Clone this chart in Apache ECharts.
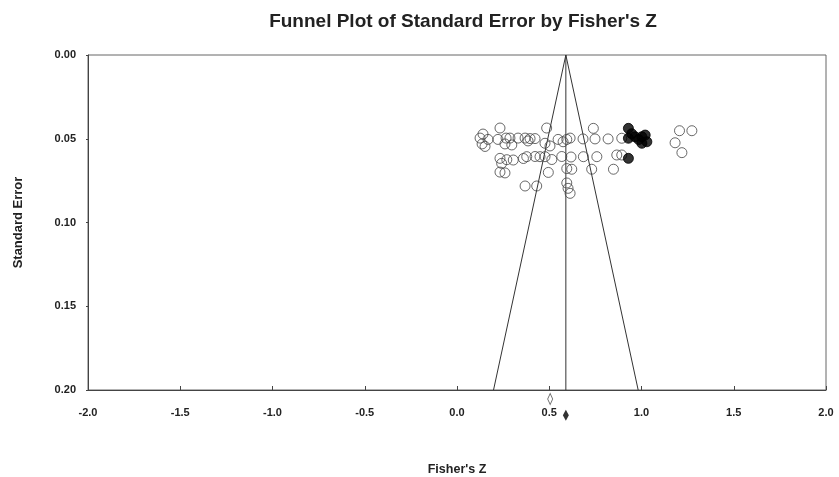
<!DOCTYPE html>
<html>
<head>
<meta charset="utf-8">
<script src="https://cdn.jsdelivr.net/npm/echarts@6/dist/echarts.min.js"></script>
<style>html,body{margin:0;padding:0;background:#fff;}#c{width:839px;height:477px;}</style>
</head>
<body>
<div id="c"></div>
<script>
const xTicks = [-2.0, -1.5, -1.0, -0.5, 0.0, 0.5, 1.0, 1.5, 2.0];
const yTicks = [0.00, 0.05, 0.10, 0.15, 0.20];
const combinedZ = 0.59;
const funnelSE = 0.20;
// observed studies: [Fisher's Z, standard error]
const observed = [
  [0.233,0.0436],[0.141,0.0472],[0.486,0.0436],[0.739,0.0438],[1.206,0.0452],[1.273,0.0452],
  [0.125,0.0496],[0.168,0.0504],[0.222,0.0504],[0.266,0.0496],[0.287,0.0496],[0.331,0.0496],
  [0.369,0.0496],[0.396,0.0499],[0.423,0.0499],[0.548,0.0504],[0.595,0.0504],[0.613,0.0496],
  [0.683,0.0501],[0.748,0.0501],[0.819,0.0501],[0.893,0.0497],[1.182,0.0524],
  [0.136,0.0531],[0.152,0.0546],[0.297,0.0537],[0.385,0.0513],[0.477,0.0527],[0.504,0.0543],
  [0.575,0.0518],[0.260,0.0531],
  [0.233,0.0617],[0.242,0.0647],[0.270,0.0625],[0.305,0.0627],[0.360,0.0618],[0.378,0.0607],
  [0.423,0.0606],[0.450,0.0607],[0.477,0.0607],[0.514,0.0624],[0.568,0.0606],[0.618,0.0609],
  [0.685,0.0607],[0.758,0.0607],[0.866,0.0597],[0.893,0.0597],[1.219,0.0583],
  [0.233,0.0699],[0.260,0.0704],[0.495,0.0701],[0.595,0.0678],[0.622,0.0682],[0.730,0.0682],
  [0.848,0.0682],
  [0.369,0.0782],[0.432,0.0782],[0.595,0.0764],[0.602,0.0796],[0.613,0.0826]
];
// imputed studies
const imputed = [
  [0.929,0.0438],[0.929,0.0497],[0.965,0.0488],[1.002,0.0488],[1.020,0.0478],[1.029,0.0518],
  [1.002,0.0527],[0.929,0.0617],[0.947,0.0470],[0.985,0.0505]
];
const observedCombined = [[0.505, 0.2054]];
const imputedCombined = [[0.59, 0.215]];

const funnel = [
  [combinedZ - 1.96 * funnelSE, funnelSE],
  [combinedZ, 0],
  [combinedZ + 1.96 * funnelSE, funnelSE]
];
const centerLine = [[combinedZ, 0], [combinedZ, funnelSE]];

const chart = echarts.init(document.getElementById('c'));
const font = 'Liberation Sans, Arial, sans-serif';
chart.setOption({
  animation: false,
  backgroundColor: '#fff',
  title: {
    text: "Funnel Plot of Standard Error by Fisher's Z",
    left: 458, top: 7, textAlign: 'center',
    textStyle: {fontFamily: font, fontSize: 19, fontWeight: 'bold', color: '#222'}
  },
  grid: {left: 88, right: 13, top: 55, bottom: 87, show: true, borderColor: '#666', borderWidth: 1,
    containLabel: false, outerBoundsMode: 'none'},
  xAxis: {
    type: 'value', min: -2, max: 2, interval: 0.5,
    name: "Fisher's Z", nameLocation: 'middle', nameGap: 73,
    nameTextStyle: {fontFamily: font, fontSize: 12.5, fontWeight: 'bold', color: '#222'},
    axisLine: {onZero: false, lineStyle: {color: '#444'}},
    axisTick: {inside: true, length: 4, lineStyle: {color: '#444'}},
    splitLine: {show: false},
    axisLabel: {margin: 17, fontFamily: font, fontSize: 11, fontWeight: 'bold', color: '#222',
      formatter: v => v.toFixed(1)}
  },
  yAxis: {
    type: 'value', min: 0, max: 0.2, interval: 0.05, inverse: true,
    name: 'Standard Error', nameLocation: 'middle', nameGap: 63, nameRotate: 90,
    nameTextStyle: {fontFamily: font, fontSize: 13, fontWeight: 'bold', color: '#222'},
    axisLine: {onZero: false, lineStyle: {color: '#444'}},
    axisTick: {length: 2, lineStyle: {color: '#444'}},
    splitLine: {show: false},
    axisLabel: {margin: 12, fontFamily: font, fontSize: 11, fontWeight: 'bold', color: '#222',
      formatter: v => v.toFixed(2)}
  },
  series: [
    {type: 'line', data: funnel, symbol: 'none', lineStyle: {color: '#333', width: 1}, z: 1},
    {type: 'line', data: centerLine, symbol: 'none', lineStyle: {color: '#333', width: 1}, z: 1},
    {type: 'scatter', data: observed, symbol: 'circle', symbolSize: 10,
      itemStyle: {color: 'rgba(0,0,0,0)', borderColor: '#444', borderWidth: 1}, z: 3},
    {type: 'scatter', data: imputed, symbol: 'circle', symbolSize: 10,
      itemStyle: {color: '#000', borderColor: '#000', borderWidth: 1}, z: 4},
    {type: 'scatter', data: observedCombined, symbol: 'diamond', symbolSize: [5, 11], clip: false,
      itemStyle: {color: '#fff', borderColor: '#444', borderWidth: 1}, z: 4},
    {type: 'scatter', data: imputedCombined, symbol: 'diamond', symbolSize: [6, 11], clip: false,
      itemStyle: {color: '#000'}, z: 4}
  ]
});
</script>
</body>
</html>
